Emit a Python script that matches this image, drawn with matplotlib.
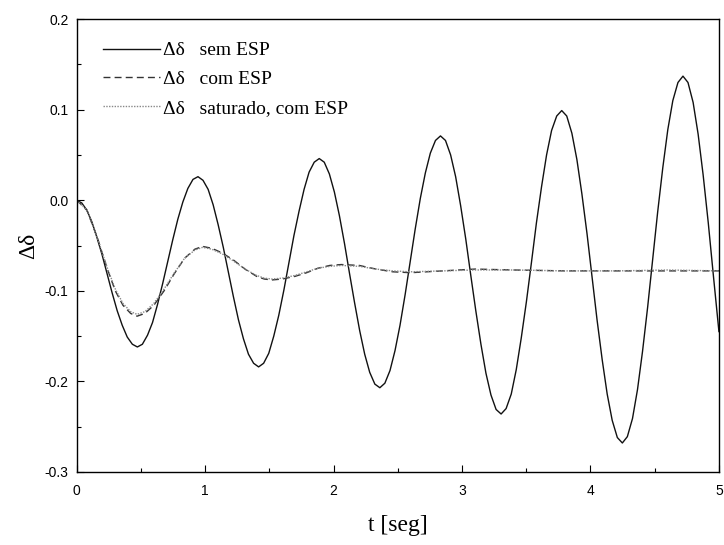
import matplotlib
matplotlib.use("Agg")
import matplotlib.pyplot as plt
from matplotlib.ticker import MultipleLocator, FormatStrFormatter

plt.rcParams['axes.unicode_minus'] = False

# sem ESP
t_sem = [0.000, 0.039, 0.079, 0.118, 0.157, 0.197, 0.236, 0.275, 0.315, 0.354, 0.393, 0.433,
         0.472, 0.511, 0.551, 0.590, 0.629, 0.669, 0.708, 0.747, 0.787, 0.826, 0.865, 0.905,
         0.944, 0.983, 1.023, 1.062, 1.101, 1.141, 1.180, 1.219, 1.259, 1.298, 1.337, 1.377,
         1.416, 1.455, 1.495, 1.534, 1.573, 1.613, 1.652, 1.691, 1.731, 1.770, 1.809, 1.849,
         1.888, 1.927, 1.967, 2.006, 2.045, 2.085, 2.124, 2.163, 2.203, 2.242, 2.281, 2.321,
         2.360, 2.399, 2.439, 2.478, 2.517, 2.557, 2.596, 2.635, 2.675, 2.714, 2.753, 2.793,
         2.832, 2.871, 2.911, 2.950, 2.989, 3.029, 3.068, 3.107, 3.147, 3.186, 3.225, 3.265,
         3.304, 3.343, 3.383, 3.422, 3.461, 3.501, 3.540, 3.579, 3.619, 3.658, 3.697, 3.737,
         3.776, 3.815, 3.855, 3.894, 3.933, 3.973, 4.012, 4.051, 4.091, 4.130, 4.169, 4.209,
         4.248, 4.287, 4.327, 4.366, 4.405, 4.445, 4.484, 4.523, 4.563, 4.602, 4.641, 4.681,
         4.720, 4.759, 4.799, 4.838, 4.877, 4.917, 4.956, 5.000]
d_sem = [0.000, -0.003, -0.011, -0.024, -0.041, -0.060, -0.081, -0.102, -0.122, -0.138, -0.151, -0.159,
         -0.162, -0.159, -0.149, -0.135, -0.115, -0.092, -0.068, -0.044, -0.021, -0.002, 0.013, 0.023,
         0.026, 0.022, 0.012, -0.005, -0.027, -0.052, -0.079, -0.106, -0.132, -0.153, -0.170, -0.180,
         -0.184, -0.180, -0.169, -0.150, -0.127, -0.099, -0.069, -0.039, -0.012, 0.012, 0.031, 0.042,
         0.046, 0.042, 0.029, 0.009, -0.017, -0.048, -0.081, -0.113, -0.144, -0.170, -0.190, -0.203,
         -0.207, -0.202, -0.188, -0.166, -0.138, -0.104, -0.068, -0.032, 0.002, 0.030, 0.052, 0.066,
         0.071, 0.066, 0.050, 0.026, -0.006, -0.043, -0.083, -0.122, -0.159, -0.191, -0.215, -0.231,
         -0.236, -0.230, -0.214, -0.187, -0.152, -0.112, -0.069, -0.025, 0.015, 0.050, 0.077, 0.093,
         0.099, 0.093, 0.074, 0.045, 0.007, -0.037, -0.085, -0.132, -0.176, -0.214, -0.243, -0.262,
         -0.268, -0.261, -0.241, -0.209, -0.167, -0.118, -0.066, -0.013, 0.036, 0.078, 0.110, 0.130,
         0.137, 0.130, 0.108, 0.073, 0.028, -0.025, -0.082, -0.145]

# com ESP
t_com = [0.000, 0.079, 0.157, 0.236, 0.300, 0.360, 0.420, 0.470, 0.530,
         0.600, 0.680, 0.760, 0.840, 0.920, 0.980, 1.050, 1.130, 1.220,
         1.310, 1.400, 1.460, 1.520, 1.600, 1.700, 1.790, 1.880, 1.970,
         2.060, 2.200, 2.330, 2.460, 2.600, 2.850, 3.100, 3.400, 3.800,
         4.200, 4.600, 5.000]
d_com = [0.000, -0.011, -0.040, -0.075, -0.100, -0.116, -0.125, -0.128, -0.125,
         -0.116, -0.100, -0.081, -0.064, -0.054, -0.051, -0.053, -0.058, -0.066,
         -0.076, -0.084, -0.087, -0.088, -0.087, -0.084, -0.080, -0.075, -0.072,
         -0.071, -0.072, -0.076, -0.079, -0.080, -0.078, -0.076, -0.077, -0.078,
         -0.078, -0.078, -0.078]

# saturado, com ESP
t_sat = [0.000, 0.079, 0.157, 0.236, 0.300, 0.360, 0.420, 0.470, 0.530,
         0.600, 0.680, 0.760, 0.840, 0.920, 0.980, 1.050, 1.130, 1.220,
         1.310, 1.400, 1.460, 1.520, 1.600, 1.700, 1.790, 1.880, 1.970,
         2.060, 2.200, 2.330, 2.460, 2.600, 2.850, 3.100, 3.400, 3.800,
         4.200, 4.600, 5.000]
d_sat = [0.000, -0.011, -0.040, -0.074, -0.098, -0.114, -0.123, -0.126, -0.123,
         -0.114, -0.098, -0.080, -0.064, -0.055, -0.052, -0.054, -0.059, -0.067,
         -0.076, -0.083, -0.086, -0.087, -0.086, -0.083, -0.079, -0.075, -0.073,
         -0.072, -0.073, -0.076, -0.078, -0.079, -0.078, -0.077, -0.077, -0.078,
         -0.078, -0.077, -0.078]

labels = ["Δδ   sem ESP", "Δδ   com ESP", "Δδ   saturado, com ESP"]

fig = plt.figure(figsize=(7.24, 5.45), dpi=100)
ax = fig.add_axes([0.106, 0.134, 0.887, 0.831])

ax.plot(t_sem, d_sem, color='#111111', lw=1.0, label=labels[0])
ax.plot(t_com, d_com, color='#333333', lw=1.0, ls=(0, (5, 3)), label=labels[1])
ax.plot(t_sat, d_sat, color='#888888', lw=1.0, ls=(0, (1, 1)), label=labels[2])

ax.set_xlim(0, 5)
ax.set_ylim(-0.3, 0.2)
ax.xaxis.set_major_locator(MultipleLocator(1))
ax.xaxis.set_minor_locator(MultipleLocator(0.5))
ax.yaxis.set_major_locator(MultipleLocator(0.1))
ax.yaxis.set_minor_locator(MultipleLocator(0.05))
ax.yaxis.set_major_formatter(FormatStrFormatter('%.1f'))
ax.tick_params(which='both', direction='in', labelsize=10,
               labelfontfamily='Liberation Sans', width=0.8)
ax.tick_params(which='major', length=5)
ax.tick_params(which='minor', length=3)
ax.tick_params(axis='x', pad=9)
ax.tick_params(axis='y', pad=6)
for s in ax.spines.values():
    s.set_linewidth(1.0)

ax.set_xlabel('t [seg]', family='Liberation Serif', fontsize=17, labelpad=12)
ax.set_ylabel('Δδ', family='Liberation Serif', fontsize=17, labelpad=4)

leg = ax.legend(loc='upper left', bbox_to_anchor=(0.028, 0.967), frameon=False,
                prop={'family': 'Liberation Serif', 'size': 14},
                handlelength=2.95, handletextpad=0.15, labelspacing=0.57,
                borderaxespad=0)

fig.savefig('out.png', dpi=100)
